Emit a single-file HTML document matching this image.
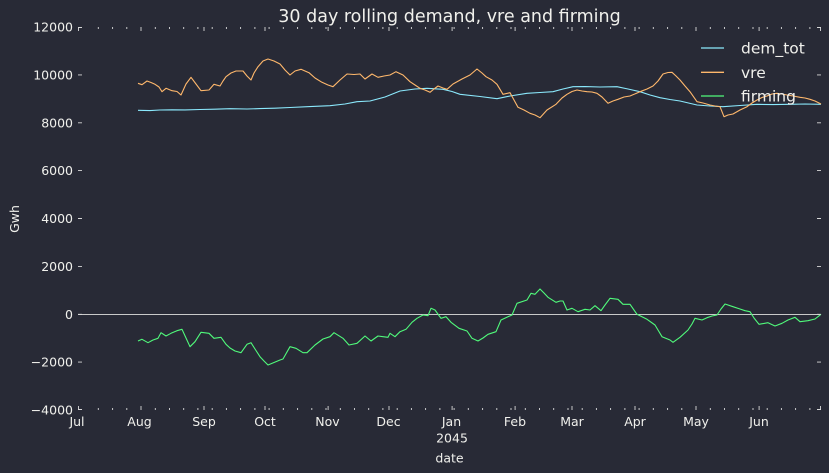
<!DOCTYPE html>
<html><head><meta charset="utf-8"><style>
html,body{margin:0;padding:0;background:#282a36;}
svg{display:block;}
text{font-family:"DejaVu Sans","Liberation Sans",sans-serif;fill:#f0f0ec;}
</style></head><body>
<svg width="829" height="473" viewBox="0 0 829 473" xmlns="http://www.w3.org/2000/svg">
<rect x="0" y="0" width="829" height="473" fill="#282a36"/>
<text x="449.5" y="22" font-size="17.5" text-anchor="middle">30 day rolling demand, vre and firming</text>

<!-- series -->
<polyline fill="none" stroke="#8be9fd" stroke-width="1.1" stroke-linejoin="round" points="138,110.3 150,110.6 160,110 172,109.8 185,109.9 200,109.5 215,109.2 230,108.7 247,109 260,108.6 275,108.2 290,107.5 310,106.6 330,105.7 345,104 357,101.7 370,101 385,97 400,91 415,89 427,88.3 443,89.3 452,91.5 460,94.3 480,96.5 497,98.7 510,96 527,93.3 540,92.5 553,91.7 563,89 573,86.7 585,86.6 600,87 617,86.7 628,89 640,91.7 650,95 660,97.7 670,99.5 680,101 697,105 710,106 723,106.7 740,105.5 757,104.3 773,104.6 790,104.3 805,104 821,104.3"/>
<polyline fill="none" stroke="#ffb86c" stroke-width="1.1" stroke-linejoin="round" points="138,83.3 142,84.7 147,81 151,82.5 155,84.3 159,87 162,91.7 166,88.3 172,90.7 177,91.5 181,95 186,84 191,77.3 196,84 201,90.7 209,90 214,84.3 220,86 223,81 226,76.7 231,73 236,71 243,71 247,76 251,80 254,73 258,66.7 263,61 268,59 274,61 280,64 285,70 290,75 295,71 301,69.3 309,72.7 315,78 322,82.3 328,85 333,86.7 340,80 347,74 354,74.5 360,74 365,79 372,74 378,77.3 384,76 390,75 396,71.7 403,75 410,81.7 415,85 420,88.3 425,90 430,92.3 434,89 438,86 443,88 447,89.3 453,84 462,79 470,75 477,69 482,73 486,76.7 492,80 497,84.3 503,94.3 510,92.7 514,100 518,107.3 524,110 530,113.3 535,115 540,117.7 547,110 556,104.3 562,98 567,94.3 572,91.5 577,90 582,91 587,91.7 592,92 597,93.3 602,97 608,103.3 613,101 618,99.3 624,97 630,96 640,91.7 647,89 653,86 658,81 663,74 668,72.5 672,72.3 676,76 680,80 685,86 690,91.7 697,101.7 703,103 710,105 715,106 720,106.7 724,116.7 728,115 733,114 740,110 747,106.7 752,103 757,100 762,97.5 767,96 772,94 777,93.3 782,94 787,95 793,96 800,97.3 805,98 810,99.3 815,101 821,104"/>
<line x1="78" y1="314.5" x2="821" y2="314.5" stroke="#c9c9c9" stroke-width="1"/>
<polyline fill="none" stroke="#50fa7b" stroke-width="1.1" stroke-linejoin="round" points="138,341 142,339.3 148,342.7 153,340 158,338.3 161,332.7 166,336 171,333.3 177,330.7 182,329.3 186,338 190,346.7 195,341.7 201,332.3 209,333.3 214,338.3 221,337.3 226,344.3 230,348 235,351 241,352.7 247,344.3 251,342.7 255,349 260,356.7 264,361 268,365 274,362.5 280,360 283,359 290,346.7 296,348.3 303,352.7 307,352.7 315,345 323,339 330,336.7 334,332.7 343,338.3 349,345 357,343.3 365,336 371,341 378,336 388,337.3 390,333.3 395,336.7 400,331.7 406,329.3 412,322.3 417,318.3 423,315 428,315.7 431,308.3 435,310 441,318.3 446,316.7 451,322.3 459,328.3 467,331 472,338.3 478,341 483,338 488,334.3 496,331.7 501,320 508,316.7 512,315 517,303.3 527,300 531,293.3 535,294.3 540,289 544,293 548,297.3 556,302.3 560,301 563,301 567,310 572,308.3 578,311.7 585,309.3 590,310 595,305.7 601,310.7 605,305 610,298.3 618,299.3 623,304.3 630,304.3 637,314.3 647,319.3 655,325 658,330 662,336.7 670,340 673,342.3 680,337.3 688,330 692,324 695,318.3 702,320 707,317.7 712,316 717,315 721,309 725,304 733,306.7 740,309 745,310.7 750,311.7 754,318 759,324.3 768,322.7 775,326 782,323.3 788,320 795,317.3 800,321.7 808,320.7 815,319 821,314.3"/>

<!-- ticks -->
<g stroke="#d8d8d8" stroke-width="0.9" fill="none">
<path d="M98.3 410v-2M112.6 410v-2M126.8 410v-2M155.3 410v-2M169.5 410v-2M183.7 410v-2M197.9 410v-2M212.2 410v-2M226.4 410v-2M240.6 410v-2M254.9 410v-2M269.1 410v-2M283.3 410v-2M297.6 410v-2M311.8 410v-2M326 410v-2M340.3 410v-2M354.5 410v-2M368.7 410v-2M382.9 410v-2M397.2 410v-2M411.4 410v-2M425.6 410v-2M439.9 410v-2M454.1 410v-2M468.3 410v-2M482.6 410v-2M496.8 410v-2M511 410v-2M525.3 410v-2M539.5 410v-2M553.7 410v-2M568 410v-2M582.2 410v-2M596.4 410v-2M610.6 410v-2M624.9 410v-2M639.1 410v-2M653.3 410v-2M667.6 410v-2M681.8 410v-2M710.3 410v-2M724.5 410v-2M738.7 410v-2M753 410v-2M767.2 410v-2M781.4 410v-2M795.6 410v-2M809.9 410v-2"/>
<path d="M98.3 27v2M112.6 27v2M126.8 27v2M155.3 27v2M169.5 27v2M183.7 27v2M197.9 27v2M212.2 27v2M226.4 27v2M240.6 27v2M254.9 27v2M269.1 27v2M283.3 27v2M297.6 27v2M311.8 27v2M326 27v2M340.3 27v2M354.5 27v2M368.7 27v2M382.9 27v2M397.2 27v2M411.4 27v2M425.6 27v2M439.9 27v2M454.1 27v2M468.3 27v2M482.6 27v2M496.8 27v2M511 27v2M525.3 27v2M539.5 27v2M553.7 27v2M568 27v2M582.2 27v2M596.4 27v2M610.6 27v2M624.9 27v2M639.1 27v2M653.3 27v2M667.6 27v2M681.8 27v2M710.3 27v2M724.5 27v2M738.7 27v2M753 27v2M767.2 27v2M781.4 27v2M795.6 27v2M809.9 27v2"/>
<path d="M78.5 410v-4M141 410v-4M204 410v-4M265 410v-4M328.1 410v-4M389 410v-4M452.1 410v-4M515.1 410v-4M572 410v-4M635 410v-4M696 410v-4M759.1 410v-4M820.5 410v-4"/>
<path d="M78.5 27v4M141 27v4M204 27v4M265 27v4M328.1 27v4M389 27v4M452.1 27v4M515.1 27v4M572 27v4M635 27v4M696 27v4M759.1 27v4M820.5 27v4"/>
<path d="M78 27.5h4M78 74.9h4M78 122.8h4M78 170.6h4M78 218.5h4M78 266.4h4M78 314.3h4M78 362.1h4M78 409.5h4"/>
<path d="M821 27.5h-4M821 74.9h-4M821 122.8h-4M821 170.6h-4M821 218.5h-4M821 266.4h-4M821 314.3h-4M821 362.1h-4M821 409.5h-4"/>
</g>

<!-- y labels -->
<g font-size="12.5" text-anchor="end">
<text x="73" y="31.5">12000</text>
<text x="73" y="79.4">10000</text>
<text x="73" y="127.3">8000</text>
<text x="73" y="175.1">6000</text>
<text x="73" y="223">4000</text>
<text x="73" y="270.9">2000</text>
<text x="73" y="318.8">0</text>
<text x="73" y="366.6">−2000</text>
<text x="73" y="414.5">−4000</text>
</g>
<text x="19" y="219" font-size="12.5" text-anchor="middle" transform="rotate(-90 19 219)">Gwh</text>

<!-- x labels -->
<g font-size="12.5" text-anchor="middle">
<text x="77" y="426">Jul</text>
<text x="139.5" y="426">Aug</text>
<text x="204" y="426">Sep</text>
<text x="265" y="426">Oct</text>
<text x="327.5" y="426">Nov</text>
<text x="388.5" y="426">Dec</text>
<text x="451.5" y="426">Jan</text>
<text x="515" y="426">Feb</text>
<text x="572" y="426">Mar</text>
<text x="635" y="426">Apr</text>
<text x="696" y="426">May</text>
<text x="759" y="426">Jun</text>
<text x="452" y="442.5">2045</text>
<text x="449.5" y="462.5">date</text>
</g>

<!-- legend -->
<line x1="701" y1="48" x2="724" y2="48" stroke="#8be9fd" stroke-width="1.3"/>
<line x1="701" y1="72.3" x2="724" y2="72.3" stroke="#ffb86c" stroke-width="1.3"/>
<line x1="701" y1="96" x2="724" y2="96" stroke="#50fa7b" stroke-width="1.3"/>
<g font-size="15.5">
<text x="741" y="53.5">dem_tot</text>
<text x="741" y="78">vre</text>
<text x="741" y="101.5">firming</text>
</g>
</svg>
</body></html>
